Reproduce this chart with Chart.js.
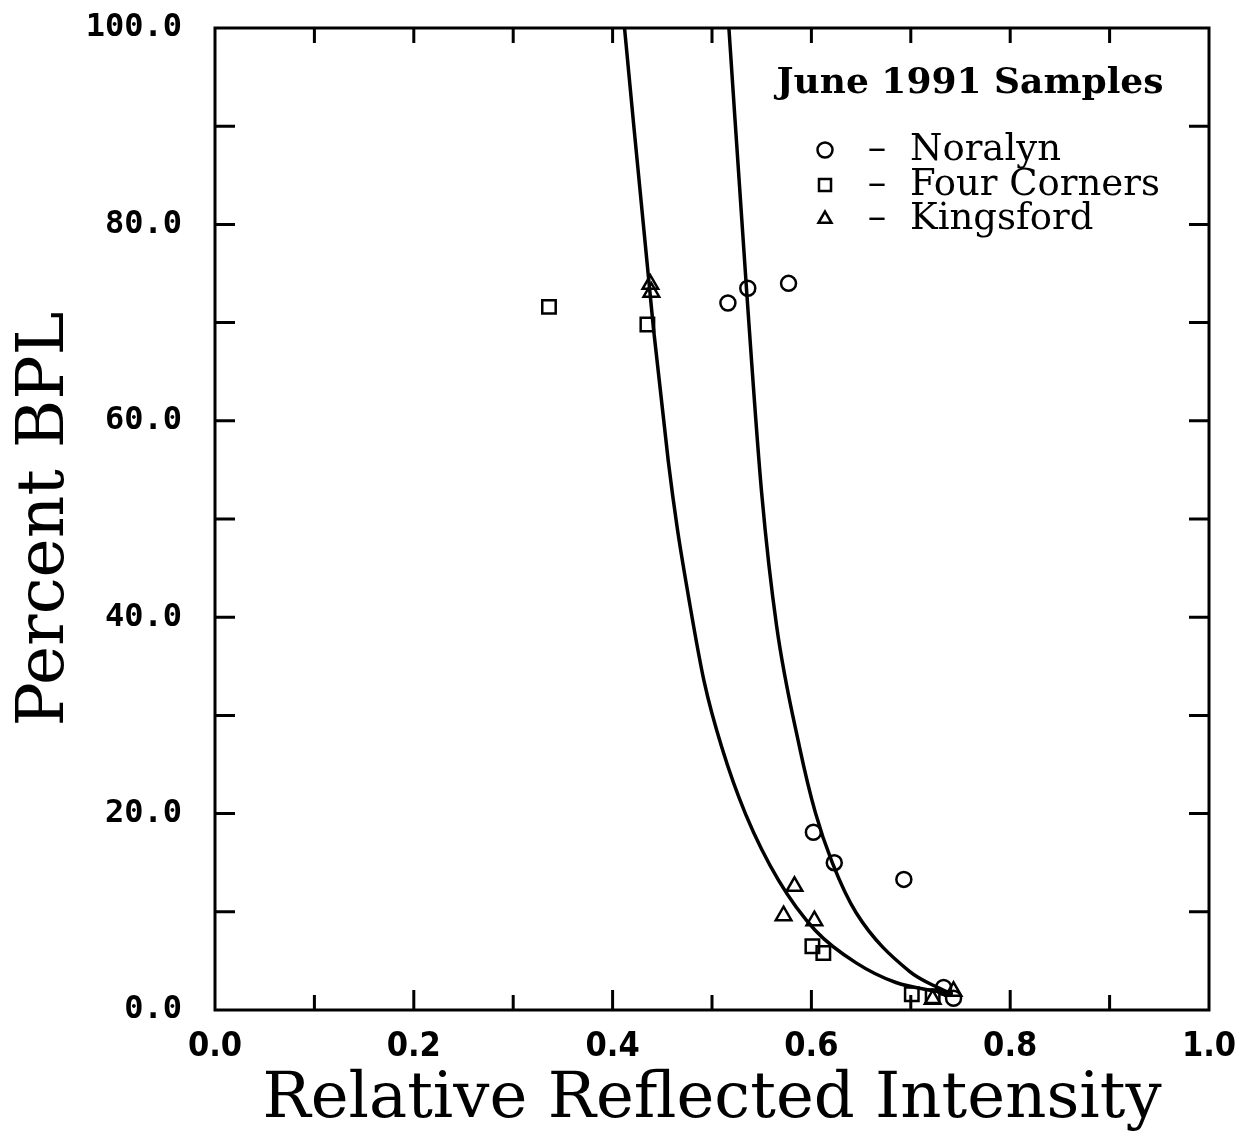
<!DOCTYPE html>
<html><head><meta charset="utf-8">
<script src="https://cdn.jsdelivr.net/npm/chart.js@4/dist/chart.umd.min.js"></script>
<style>html,body{margin:0;padding:0;background:#fff}#wrap{width:1236px;height:1135px;position:relative;background:#fff}</style>
</head><body><div id="wrap"><canvas id="c" width="1236" height="1135"></canvas></div>
<script>
// ---- data ----
const noralynX = [0.516, 0.536, 0.577, 0.602, 0.623, 0.693, 0.733, 0.743];
const noralynY = [72.0, 73.5, 74.0, 18.1, 15.0, 13.3, 2.3, 1.2];
const fourCornersX = [0.336, 0.435, 0.601, 0.612, 0.701, 0.722];
const fourCornersY = [71.6, 69.8, 6.5, 5.8, 1.6, 1.4];
const kingsfordX = [0.438, 0.439, 0.583, 0.572, 0.603, 0.722, 0.743];
const kingsfordY = [73.9, 73.1, 12.6, 9.6, 9.1, 1.1, 1.9];
const fitAX = [0.412, 0.441, 0.456, 0.465, 0.476, 0.492, 0.510, 0.534, 0.567, 0.604, 0.645, 0.685, 0.726, 0.742];
const fitAY = [100, 69.5, 55.9, 49.1, 42.3, 33.5, 26.7, 19.9, 13.2, 8.1, 4.8, 2.8, 1.9, 1.6];
const fitBX = [0.517, 0.535, 0.550, 0.565, 0.588, 0.604, 0.621, 0.645, 0.699, 0.729, 0.742];
const fitBY = [100, 73.0, 52.6, 39.1, 26.8, 20.1, 15.0, 9.9, 3.9, 2.2, 1.6];
const xTickMarks = [0.1, 0.2, 0.3, 0.4, 0.5, 0.6, 0.7, 0.8, 0.9];
const yTickMarks = [10, 20, 30, 40, 50, 60, 70, 80, 90];
const legendTitle = 'June 1991 Samples';
const seriesNames = ['Noralyn', 'Four Corners', 'Kingsford'];
const xTitle = 'Relative Reflected Intensity';
const yTitle = 'Percent BPL';

const pts = (xs, ys) => xs.map((x, i) => ({x, y: ys[i]}));

const frameTicks = {
  id: 'frameTicks',
  afterDraw(chart) {
    const {ctx, chartArea: a, scales: {x, y}} = chart;
    ctx.save();
    ctx.strokeStyle = '#000';
    ctx.lineWidth = 3;
    ctx.strokeRect(a.left, a.top, a.right - a.left, a.bottom - a.top);
    ctx.beginPath();
    xTickMarks.forEach(v => {
      const px = x.getPixelForValue(v);
      const len = (Math.round(v * 10) % 2 === 0) ? 20 : 15;
      ctx.moveTo(px, a.bottom); ctx.lineTo(px, a.bottom - len);
      ctx.moveTo(px, a.top); ctx.lineTo(px, a.top + 15);
    });
    yTickMarks.forEach(v => {
      const py = y.getPixelForValue(v);
      ctx.moveTo(a.left, py); ctx.lineTo(a.left + 20, py);
      ctx.moveTo(a.right, py); ctx.lineTo(a.right - 20, py);
    });
    ctx.stroke();

    // legend
    ctx.fillStyle = '#000';
    ctx.textBaseline = 'middle';
    ctx.textAlign = 'center';
    ctx.font = 'bold 36px "DejaVu Serif", serif';
    ctx.fillText(legendTitle, 970, 84);
    ctx.font = '37px "DejaVu Serif", serif';
    const rows = [150, 185, 219];
    [0, 1, 2].forEach(i => {
      const ds = chart.data.datasets[i];
      ctx.fillStyle = 'rgba(0,0,0,0)';
      ctx.strokeStyle = '#000';
      ctx.lineWidth = 2.5;
      Chart.helpers.drawPoint(ctx, {pointStyle: ds.pointStyle, radius: i === 1 ? 8.5 : 7.5, rotation: 0, borderWidth: 2.5}, 825, rows[i]);
      ctx.fillStyle = '#000';
      ctx.textAlign = 'center';
      ctx.fillText('\u2013', 877, rows[i]);
      ctx.textAlign = 'left';
      ctx.fillText(seriesNames[i], 910, rows[i]);
    });
    ctx.restore();
  }
};

const noPad = s => { s.paddingTop = 0; s.paddingBottom = 0; s.paddingLeft = 0; s.paddingRight = 0; };
const common = {showLine: false, borderColor: '#000', backgroundColor: 'rgba(0,0,0,0)', borderWidth: 2.5, pointBorderWidth: 2.5};
new Chart(document.getElementById('c'), {
  type: 'scatter',
  data: {datasets: [
    Object.assign({label: seriesNames[0], data: pts(noralynX, noralynY), pointStyle: 'circle', pointRadius: 7.5}, common),
    Object.assign({label: seriesNames[1], data: pts(fourCornersX, fourCornersY), pointStyle: 'rect', pointRadius: 9.5}, common),
    Object.assign({label: seriesNames[2], data: pts(kingsfordX, kingsfordY), pointStyle: 'triangle', pointRadius: 9}, common),
    {label: 'fit A', data: pts(fitAX, fitAY), showLine: true, pointRadius: 0, borderColor: '#000', borderWidth: 3.5, cubicInterpolationMode: 'monotone'},
    {label: 'fit B', data: pts(fitBX, fitBY), showLine: true, pointRadius: 0, borderColor: '#000', borderWidth: 3.5, cubicInterpolationMode: 'monotone'}
  ]},
  options: {
    responsive: false, animation: false, devicePixelRatio: 1,
    layout: {padding: {top: 28, right: 27, left: 0, bottom: 0}},
    plugins: {legend: {display: false}, tooltip: {enabled: false}},
    scales: {
      x: {
        type: 'linear', min: 0, max: 1,
        grid: {display: false, drawTicks: false}, border: {display: false},
        afterFit: s => { s.height = 125; noPad(s); },
        ticks: {stepSize: 0.2, padding: 17, color: '#000', callback: v => v.toFixed(1),
          font: {family: "'Liberation Sans Narrow', 'DejaVu Sans Condensed', sans-serif", weight: 'bold', size: 34}},
        title: {display: true, text: xTitle, color: '#000', padding: {top: 0, bottom: -4},
          font: {family: "'DejaVu Serif', serif", size: 64}}
      },
      y: {
        type: 'linear', min: 0, max: 100,
        grid: {display: false, drawTicks: false}, border: {display: false},
        afterFit: s => { s.width = 215; noPad(s); },
        ticks: {stepSize: 20, padding: 33, color: '#000', callback: v => v.toFixed(1),
          font: {family: "'DejaVu Sans Mono', monospace", weight: 'bold', size: 32}},
        title: {display: true, text: yTitle, color: '#000', padding: {top: 6, bottom: 0},
          font: {family: "'DejaVu Serif', serif", size: 66}}
      }
    }
  },
  plugins: [frameTicks]
});
</script></body></html>
